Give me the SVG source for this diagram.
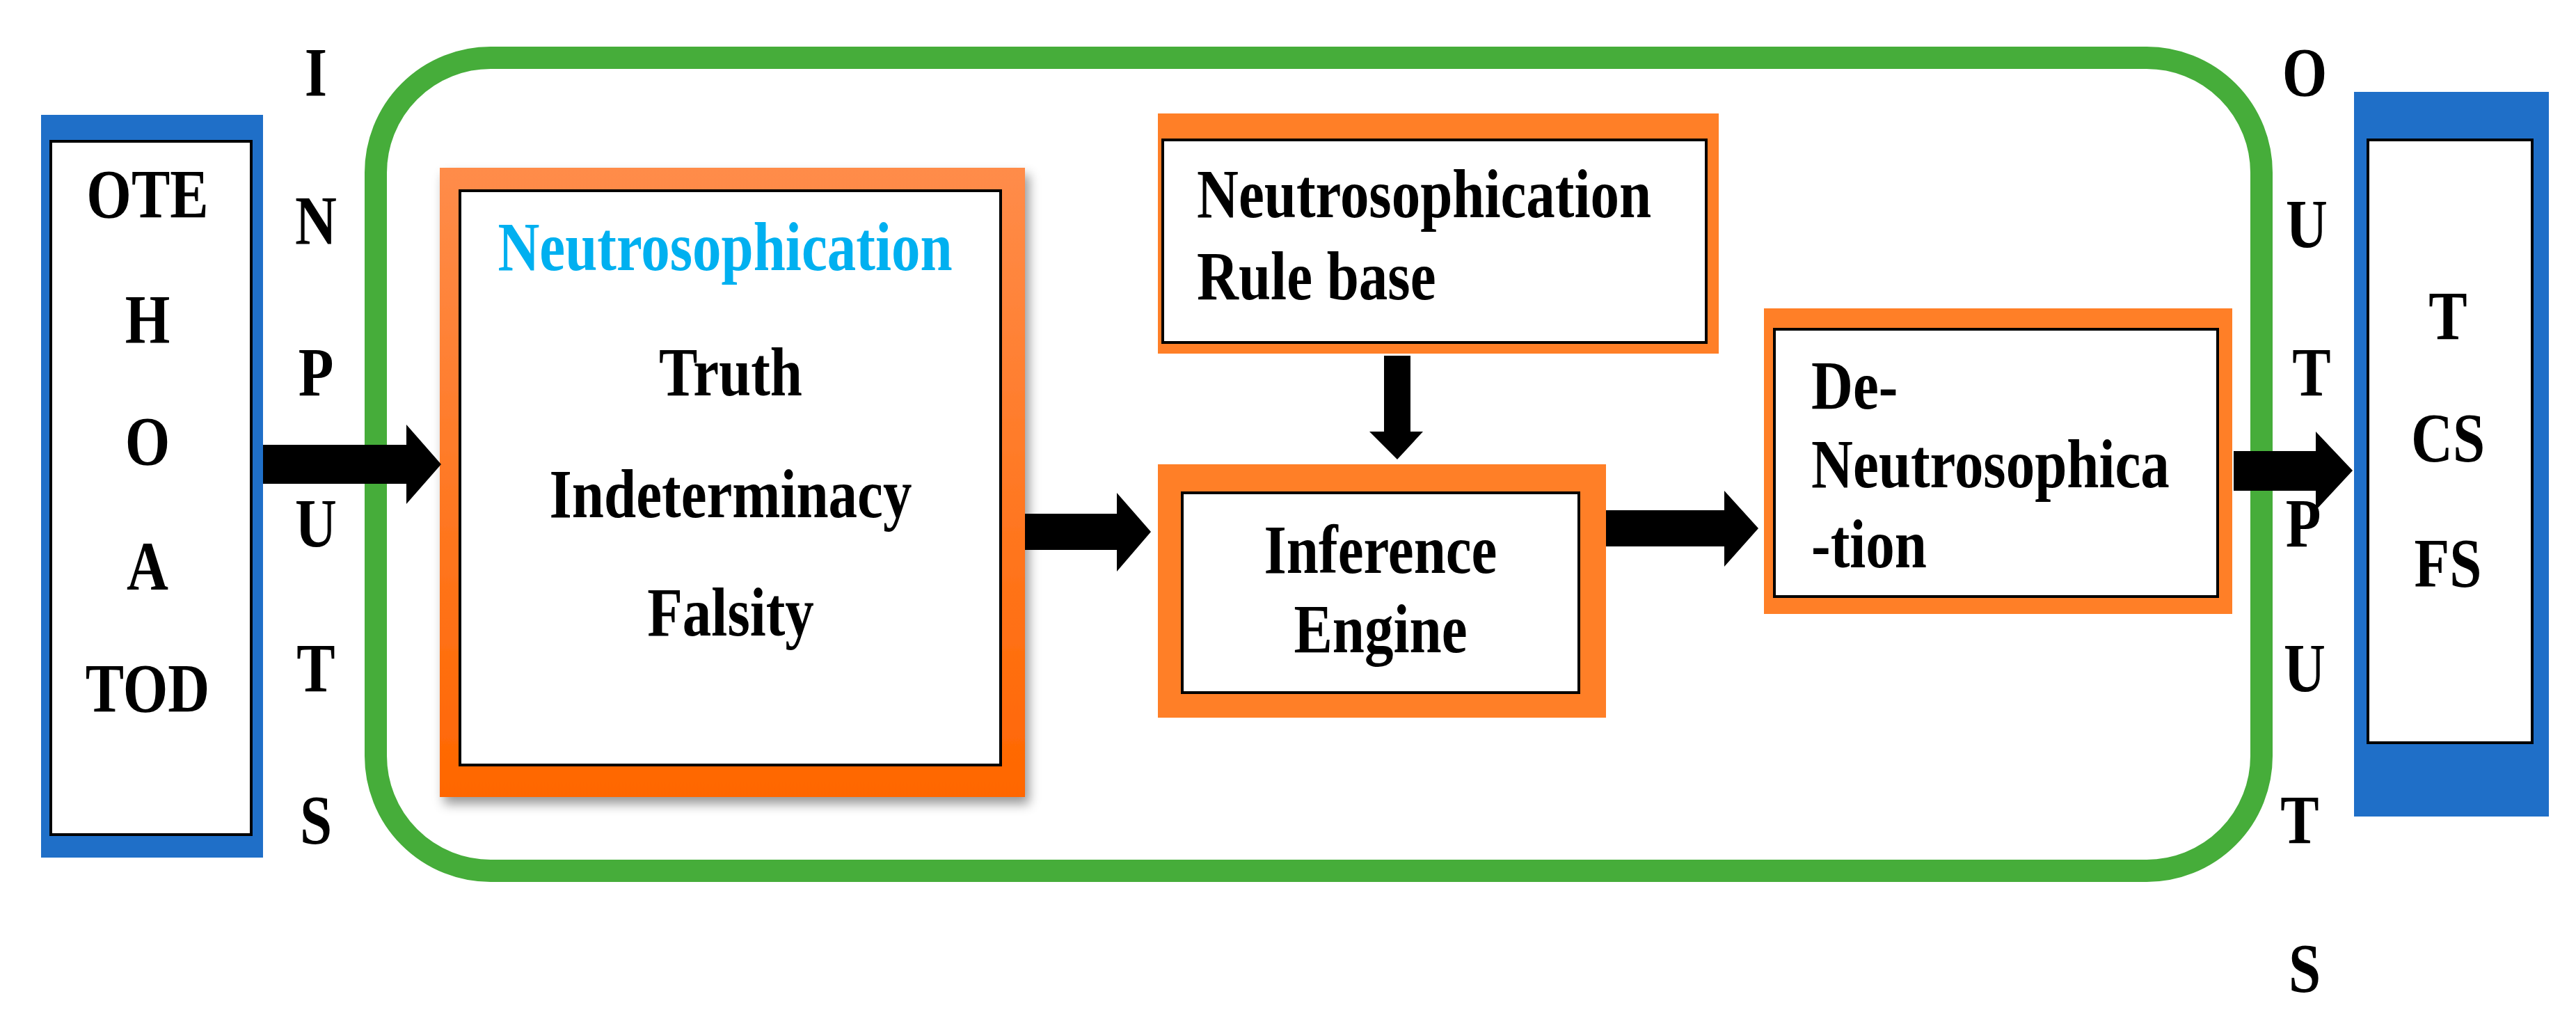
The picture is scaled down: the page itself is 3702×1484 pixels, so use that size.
<svg xmlns="http://www.w3.org/2000/svg" width="3702" height="1484" viewBox="0 0 3702 1484">
<style>
text{font-family:"Liberation Serif","Times New Roman",serif;font-weight:bold;font-size:100px;fill:#000}
.c{text-anchor:middle}
.blue{fill:#1F6FC8}
.white{fill:#fff;stroke:#000;stroke-width:4}
.arrow{fill:#000}
</style>
<defs>
<linearGradient id="og" x1="0" y1="0" x2="0" y2="1"><stop offset="0" stop-color="#FF8C4A"/><stop offset="1" stop-color="#FF6600"/></linearGradient>
<filter id="sh" x="-10%" y="-10%" width="120%" height="120%"><feDropShadow dx="6" dy="10" stdDeviation="8" flood-color="#000" flood-opacity="0.4"/></filter>
</defs>
<rect width="3702" height="1484" fill="#fff"/>
<g id="container"><rect x="540" y="83" width="2710" height="1168" rx="165" fill="none" stroke="#46AD3A" stroke-width="32"/></g>
<g id="inputs-node">
<rect class="blue" x="59" y="165" width="319" height="1067"/>
<rect class="white" x="73" y="203" width="288" height="996"/>
<g class="c">
<text transform="translate(212,312) scale(0.83,1)" class="c">OTE</text>
<text transform="translate(212,492) scale(0.83,1)" class="c">H</text>
<text transform="translate(212,667) scale(0.83,1)" class="c">O</text>
<text transform="translate(212,847) scale(0.83,1)" class="c">A</text>
<text transform="translate(212,1022) scale(0.83,1)" class="c">TOD</text>
</g>
</g>
<g id="inputs-label">
<text transform="translate(454,137) scale(0.83,1)" class="c">I</text>
<text transform="translate(454,350) scale(0.83,1)" class="c">N</text>
<text transform="translate(454,568) scale(0.83,1)" class="c">P</text>
<text transform="translate(454,785) scale(0.83,1)" class="c">U</text>
<text transform="translate(454,993) scale(0.83,1)" class="c">T</text>
<text transform="translate(454,1211) scale(0.83,1)" class="c">S</text>
</g>
<g id="neutrosophication">
<rect x="632" y="241" width="841" height="904" fill="url(#og)" filter="url(#sh)"/>
<rect class="white" x="661" y="274" width="777" height="825"/>
<text transform="translate(1042,388) scale(0.83,1)" class="c" style="fill:#00B0F0">Neutrosophication</text>
<text transform="translate(1050,568) scale(0.83,1)" class="c">Truth</text>
<text transform="translate(1050,743) scale(0.83,1)" class="c">Indeterminacy</text>
<text transform="translate(1050,913) scale(0.83,1)" class="c">Falsity</text>
</g>
<g id="rule-base">
<rect x="1664" y="163" width="806" height="345" fill="#FF7F27"/>
<rect class="white" x="1671" y="201" width="781" height="291"/>
<text transform="translate(1720,312) scale(0.83,1)">Neutrosophication</text>
<text transform="translate(1720,430) scale(0.83,1)">Rule base</text>
</g>
<g id="inference-engine">
<rect x="1664" y="667" width="644" height="364" fill="#FF7F27"/>
<rect class="white" x="1699" y="708" width="570" height="287"/>
<text transform="translate(1984,823) scale(0.83,1)" class="c">Inference</text>
<text transform="translate(1984,937) scale(0.83,1)" class="c">Engine</text>
</g>
<g id="de-neutrosophication">
<rect x="2535" y="443" width="673" height="439" fill="#FF7F27"/>
<rect class="white" x="2550" y="473" width="637" height="384"/>
<text transform="translate(2603,587) scale(0.83,1)">De-</text>
<text transform="translate(2603,700) scale(0.83,1)">Neutrosophica</text>
<text transform="translate(2603,815) scale(0.83,1)">-tion</text>
</g>
<g id="outputs-label">
<text transform="translate(3312,137) scale(0.83,1)" class="c">O</text>
<text transform="translate(3315,355) scale(0.83,1)" class="c">U</text>
<text transform="translate(3322,568) scale(0.83,1)" class="c">T</text>
<text transform="translate(3310,785) scale(0.83,1)" class="c">P</text>
<text transform="translate(3312,993) scale(0.83,1)" class="c">U</text>
<text transform="translate(3305,1211) scale(0.83,1)" class="c">T</text>
<text transform="translate(3312,1424) scale(0.83,1)" class="c">S</text>
</g>
<g id="outputs-node">
<rect class="blue" x="3383" y="132" width="280" height="1041"/>
<rect class="white" x="3403" y="201" width="236" height="866"/>
<text transform="translate(3518,487) scale(0.83,1)" class="c">T</text>
<text transform="translate(3518,662) scale(0.83,1)" class="c">CS</text>
<text transform="translate(3518,842) scale(0.83,1)" class="c">FS</text>
</g>
<g id="connectors">
<polygon class="arrow" points="378,639 584,639 584,610 634,667 584,724 584,695 378,695"/>
<polygon class="arrow" points="1473,738 1605,738 1605,708 1654,764 1605,821 1605,790 1473,790"/>
<polygon class="arrow" points="2308,733 2478,733 2478,705 2527,759 2478,814 2478,785 2308,785"/>
<polygon class="arrow" points="3210,648 3328,648 3328,620 3381,676 3328,733 3328,705 3210,705"/>
<polygon class="arrow" points="1989,511 2027,511 2027,620 2045,620 2008,660 1968,620 1989,620"/>
</g>
</svg>
